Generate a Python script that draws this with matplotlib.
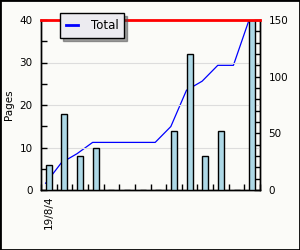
import numpy as np
import matplotlib
matplotlib.use('Agg')
from matplotlib import pyplot as plt
from matplotlib.patches import Rectangle
from matplotlib.lines import Line2D

# pages read per day (left axis) and running total (right axis)
days = list(range(14))
pages = [6, 18, 8, 10, 0, 0, 0, 0, 14, 32, 8, 14, 0, 40]
total = [6, 24, 32, 42, 42, 42, 42, 42, 56, 88, 96, 110, 110, 150]
dayLabels = ['19/8/4'] + [''] * 13
target = 40

plt.rcParams['font.family'] = ['DejaVu Sans']

fig = plt.figure(figsize=(3, 2.5), dpi=100, facecolor='#fbfbf8')
ax = fig.add_axes([41/300, 60/250, 219/300, 170/250])
ax2 = ax.twinx()

# bars on top of the line
ax.set_zorder(2)
ax.patch.set_visible(False)
ax2.set_facecolor('white')

lineX = [d - 0.2 for d in days]
ax2.plot(lineX, total, color='blue', lw=0.9)
ax2.set_ylim(0, 150)
ax2.set_yticks([0, 50, 100, 150])
ax2.set_yticks(np.arange(0, 151, 10), minor=True)

ax.bar(days, pages, width=0.38, color='#add8e6', edgecolor='black', lw=1, zorder=3)
ax.axhline(target, color='red', lw=2, zorder=4, clip_on=False)
ax.set_ylim(0, 40)
ax.set_xlim(-0.5, 13.5)
ax.set_yticks([0, 10, 20, 30, 40])
ax.set_yticks(np.arange(0, 41, 5), minor=True)
for y in [10, 20, 30]:
    ax.axhline(y, color='#dddddd', lw=0.8, zorder=0)

ax.set_xticks(days)
ax.set_xticklabels(dayLabels, rotation=90, fontsize=7.5)
ax.set_xticks(np.arange(-0.5, 13.6, 1), minor=True)
ax.tick_params(axis='x', which='major', length=0, pad=4)
ax.tick_params(axis='x', which='minor', direction='in', length=4, width=1)
ax.tick_params(axis='y', which='both', direction='in', length=4, width=1, labelsize=7.5, pad=6)
ax2.tick_params(axis='y', which='both', direction='in', length=4, width=1, labelsize=7.5, pad=6)
ax.set_ylabel('Pages', fontsize=7.5, labelpad=4)

for a in (ax, ax2):
    a.spines['top'].set_visible(False)
    for s in ('left', 'right', 'bottom'):
        a.spines[s].set_linewidth(1)

proxy = Line2D([], [], color='blue', lw=2, label='Total')
fig.legend(handles=[proxy], loc='upper left', bbox_to_anchor=(60/300, 1 - 13/250),
           borderaxespad=0, fontsize=8.5, frameon=True, fancybox=False, shadow=True,
           edgecolor='black', facecolor='#ecebf0', framealpha=1, handlelength=1.0,
           handletextpad=1.1, borderpad=0.5)

fig.add_artist(Rectangle((0, 0), 1, 1, transform=fig.transFigure, fill=False,
                         edgecolor='black', lw=2))

plt.savefig('out.png', dpi=100, facecolor=fig.get_facecolor())
